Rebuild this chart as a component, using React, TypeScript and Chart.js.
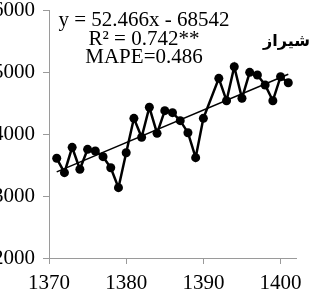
import React, { useEffect, useRef } from "react";
import { Chart, registerables } from "chart.js";

Chart.register(...registerables);

const years = [
  1371, 1372, 1373, 1374, 1375, 1376, 1377, 1378, 1379, 1380,
  1381, 1382, 1383, 1384, 1385, 1386, 1387, 1388, 1389, 1390,
  1392, 1393, 1394, 1395, 1396, 1397, 1398, 1399, 1400, 1401,
];
const values = [
  3608, 3376, 3785, 3431, 3753, 3726, 3634, 3456, 3134, 3698,
  4253, 3947, 4431, 4011, 4376, 4344, 4215, 4021, 3618, 4253,
  4898, 4537, 5085, 4576, 4995, 4952, 4790, 4537, 4924, 4827,
];
const xTicks = [1370, 1380, 1390, 1400];
const yTicks = [2000, 3000, 4000, 5000, 6000];
const slope = 52.466;
const intercept = -68542;
const trendYears = [1371, 1401];
const equationLines = ["y = 52.466x - 68542", "R² = 0.742**", "MAPE=0.486"];
const stationName = "شیراز";

const SHIFT = 30;
const W = 309 + SHIFT;
const H = 294;

export default function App() {
  const ref = useRef<HTMLCanvasElement | null>(null);

  useEffect(() => {
    document.body.style.margin = "0";
    const canvas = ref.current;
    if (!canvas) return;
    const tickFont = { family: "'Liberation Serif', 'Times New Roman', serif", size: 21 };
    const axisColor = "#9a9a9a";

    const textPlugin = {
      id: "textPlugin",
      afterDraw(chart: any) {
        const ctx = chart.ctx as CanvasRenderingContext2D;
        ctx.save();
        ctx.fillStyle = "#000";
        ctx.font = "21px 'Liberation Serif', 'Times New Roman', serif";
        ctx.textAlign = "center";
        ctx.textBaseline = "alphabetic";
        const baselines = [26, 45, 63];
        equationLines.forEach((l, i) => ctx.fillText(l, 144 + SHIFT, baselines[i]));
        ctx.font = "bold 16px 'DejaVu Sans', sans-serif";
        (ctx as any).direction = "rtl";
        ctx.textAlign = "right";
        ctx.fillText(stationName, 310 + SHIFT, 46);
        ctx.restore();
      },
    };

    const chart = new Chart(canvas, {
      type: "line",
      data: {
        datasets: [
          {
            data: years.map((y, i) => ({ x: y, y: values[i] })),
            borderColor: "#000",
            backgroundColor: "#000",
            borderWidth: 2.5,
            pointRadius: 4.5,
            pointBackgroundColor: "#000",
            pointBorderColor: "#000",
            pointBorderWidth: 0,
            tension: 0,
          },
          {
            data: trendYears.map((y) => ({ x: y, y: slope * y + intercept })),
            borderColor: "#000",
            borderWidth: 1.5,
            pointRadius: 0,
            tension: 0,
          },
        ],
      },
      options: {
        animation: false,
        responsive: false,
        devicePixelRatio: 1,
        layout: { padding: { top: 10, right: 13, left: 0, bottom: 0 } },
        plugins: { legend: { display: false }, tooltip: { enabled: false } },
        scales: {
          x: {
            type: "linear",
            min: 1370,
            max: 1402,
            afterBuildTicks: (s: any) => {
              s.ticks = xTicks.map((v) => ({ value: v }));
            },
            ticks: { font: tickFont, color: "#000", padding: 7, maxRotation: 0, callback: (v: any) => String(v) },
            grid: { display: true, drawOnChartArea: false, drawTicks: true, tickLength: 6, color: axisColor },
            border: { color: axisColor, width: 1 },
            afterFit: (s: any) => {
              s.height = 36;
              s.paddingLeft = 0;
              s.paddingRight = 0;
            },
          },
          y: {
            min: 2000,
            max: 6000,
            afterBuildTicks: (s: any) => {
              s.ticks = yTicks.map((v) => ({ value: v }));
            },
            ticks: { font: tickFont, color: "#000", padding: 8, callback: (v: any) => String(v) },
            grid: { display: true, drawOnChartArea: false, drawTicks: true, tickLength: 6, color: axisColor },
            border: { color: axisColor, width: 1 },
            afterFit: (s: any) => {
              s.width = 49 + SHIFT;
              s.paddingTop = 0;
              s.paddingBottom = 0;
            },
          },
        },
      },
      plugins: [textPlugin],
    } as any);
    return () => chart.destroy();
  }, []);

  return (
    <div style={{ position: "relative", width: 309, height: 294, overflow: "hidden", background: "#fff" }}>
      <canvas ref={ref} width={W} height={H} style={{ position: "absolute", left: -SHIFT, top: 0, width: W, height: H }} />
    </div>
  );
}
